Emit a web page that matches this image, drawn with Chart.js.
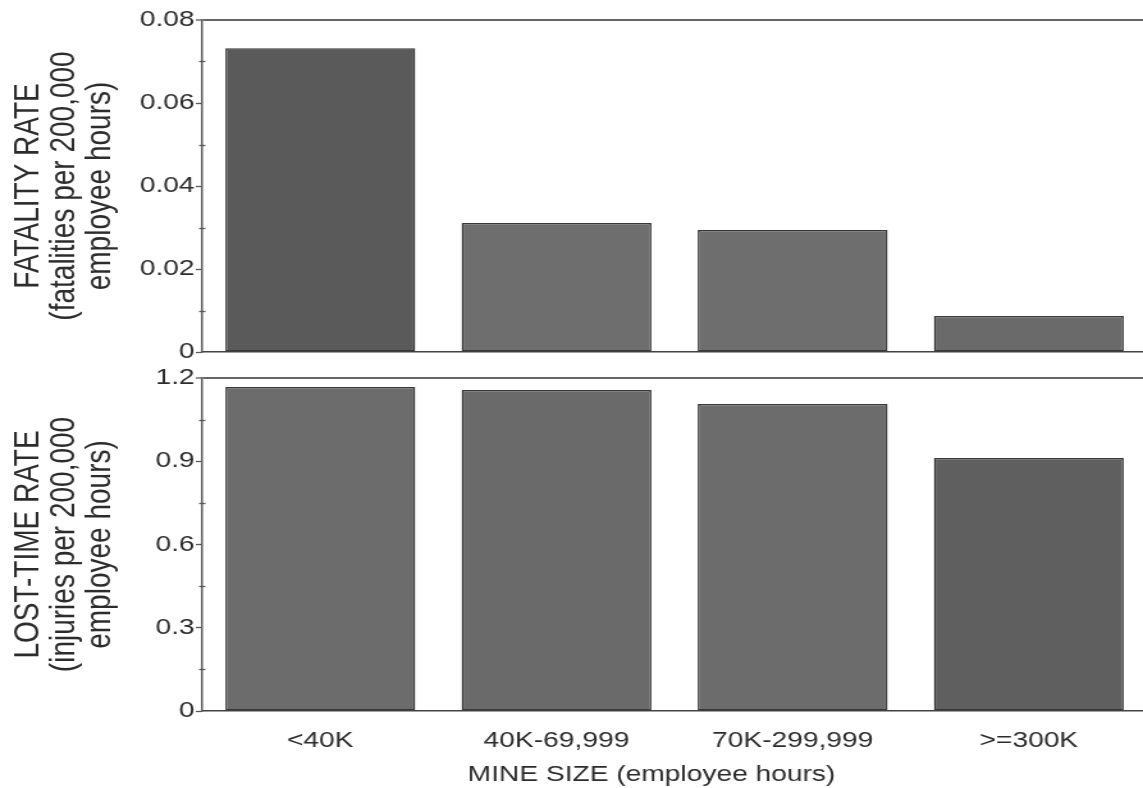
<!DOCTYPE html>
<html>
<head>
<meta charset="utf-8">
<script src="https://cdn.jsdelivr.net/npm/chart.js@4"></script>
<style>
  html, body { margin: 0; padding: 0; background: #ffffff; overflow: hidden; width: 1143px; height: 788px; }
  .wrap { position: absolute; left: 0; transform: scaleX(1.28); transform-origin: 0 0; }
  #topWrap { top: 0; }
  #botWrap { top: 360px; }
  canvas { display: block; }
</style>
</head>
<body>
<div class="wrap" id="topWrap"><canvas id="topChart" width="896" height="370"></canvas></div>
<div class="wrap" id="botWrap"><canvas id="botChart" width="896" height="428"></canvas></div>
<script>
// ---- data ----
const categories = ['<40K', '40K-69,999', '70K-299,999', '>=300K'];
const fatalityRate = [0.0732, 0.0311, 0.0294, 0.0087];
const lostTimeRate = [1.168, 1.157, 1.106, 0.912];
const fatalityTicks = ['0', '0.02', '0.04', '0.06', '0.08'];
const lostTimeTicks = ['0', '0.3', '0.6', '0.9', '1.2'];
const fatalityMinor = [0.01, 0.03, 0.05, 0.07];
const lostTimeMinor = [0.15, 0.45, 0.75, 1.05];
const fatalityTitle = ['FATALITY RATE', '(fatalities per 200,000', 'employee hours)'];
const lostTimeTitle = ['LOST-TIME RATE', '(injuries per 200,000', 'employee hours)'];
const xTitle = 'MINE SIZE (employee hours)';

const FONT = "'Liberation Sans', Arial, sans-serif";
const TEXT = '#2c2c2c';
const AXIS = '#5a5a5a';

const minorTicksPlugin = {
  id: 'minorTicks',
  afterDraw(chart, args, opts) {
    const y = chart.scales.y;
    const ctx = chart.ctx;
    ctx.save();
    ctx.strokeStyle = AXIS;
    ctx.lineWidth = 1.3;
    (opts.values || []).forEach(v => {
      const py = Math.round(y.getPixelForValue(v)) + 0.5;
      ctx.beginPath();
      ctx.moveTo(y.right - 2.5, py);
      ctx.lineTo(y.right + 2.5, py);
      ctx.stroke();
    });
    ctx.restore();
  }
};

// x-axis title, placed slightly left of the plot centre as in the reference
const xTitlePlugin = {
  id: 'xTitle',
  afterDraw(chart, args, opts) {
    if (!opts.text) return;
    const x = chart.scales.x;
    const ctx = chart.ctx;
    ctx.save();
    ctx.font = '22px ' + FONT;
    ctx.fillStyle = TEXT;
    ctx.textAlign = 'center';
    ctx.textBaseline = 'middle';
    ctx.fillText(opts.text, (x.left + x.right) / 2 - 18, x.bottom - 13);
    ctx.restore();
  }
};

function makeChart(id, values, tickLabels, minor, yMax, step, yTitle, colors, showX, padTop, padBottom, xHeight) {
  return new Chart(document.getElementById(id), {
    type: 'bar',
    data: {
      labels: categories,
      datasets: [{
        data: values,
        backgroundColor: colors,
        borderColor: '#383838',
        borderWidth: 1.5,
        borderSkipped: false,
        categoryPercentage: 1.0,
        barPercentage: 0.804
      }]
    },
    plugins: [minorTicksPlugin, xTitlePlugin],
    options: {
      responsive: false,
      animation: false,
      layout: { padding: { top: padTop, bottom: padBottom, left: 0, right: 0 } },
      plugins: {
        legend: { display: false },
        tooltip: { enabled: false },
        minorTicks: { values: minor },
        xTitle: { text: showX ? xTitle : '' }
      },
      scales: {
        x: {
          offset: true,
          afterFit: s => { s.height = xHeight; },
          grid: { display: true, color: 'transparent', drawTicks: false },
          border: { display: true, color: '#444444', width: 1.6 },
          ticks: {
            display: showX,
            padding: 17,
            color: TEXT,
            font: { family: FONT, size: 22 }
          },
          title: { display: false }
        },
        y: {
          min: 0,
          max: yMax,
          afterFit: s => { s.width = 158; },
          grid: {
            color: c => (c.index === tickLabels.length - 1 ? '#666666' : 'transparent'),
            lineWidth: c => (c.index === tickLabels.length - 1 ? 2 : 1),
            tickColor: AXIS,
            tickLength: 5,
            tickWidth: 1.3
          },
          border: { display: true, color: AXIS, width: 1.5 },
          ticks: {
            stepSize: step,
            padding: 1,
            color: TEXT,
            font: { family: FONT, size: 22 },
            callback: (v, i) => tickLabels[i]
          },
          title: {
            display: true,
            text: yTitle,
            color: TEXT,
            padding: { top: 8, bottom: 0 },
            font: { family: FONT, size: 28, lineHeight: 1.0 }
          }
        }
      }
    }
  });
}

makeChart('topChart', fatalityRate, fatalityTicks, fatalityMinor, 0.08, 0.02, fatalityTitle,
  ['#5a5a5a', '#6e6e6e', '#6e6e6e', '#6a6a6a'], false, 20, 18, 0);
makeChart('botChart', lostTimeRate, lostTimeTicks, lostTimeMinor, 1.2, 0.3, lostTimeTitle,
  ['#6c6c6c', '#6a6a6a', '#6c6c6c', '#5f5f5f'], true, 18, 0, 77);
</script>
</body>
</html>
